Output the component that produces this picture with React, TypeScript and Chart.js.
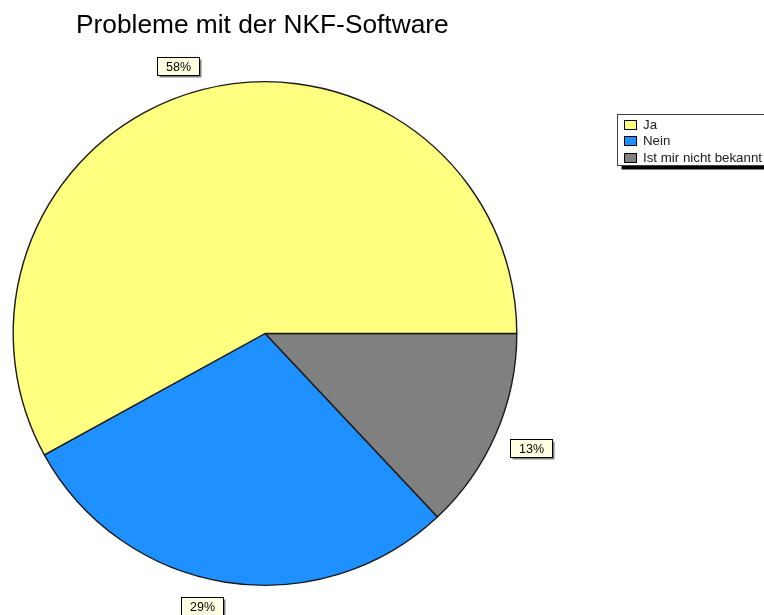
import React, { useEffect, useRef } from "react";
import { Chart, registerables } from "chart.js";

Chart.register(...registerables);

const title = "Probleme mit der NKF-Software";
const categories = ["Ja", "Nein", "Ist mir nicht bekannt"];
const values = [58, 29, 13];
const colors = ["#ffff80", "#1e90ff", "#808080"];
const percentLabels = ["58%", "29%", "13%"];

const FONT = "'Liberation Sans', Arial, sans-serif";

export default function App() {
  const ref = useRef<HTMLCanvasElement | null>(null);

  useEffect(() => {
    document.body.style.margin = "0";
    const canvas = ref.current;
    if (!canvas) return;

    // reverse so clockwise drawing from 3 o'clock reproduces the counter-clockwise original
    const order = categories.map((_, i) => i).reverse();

    const decorPlugin = {
      id: "decor",
      afterDraw(chart: any) {
        const ctx = chart.ctx as CanvasRenderingContext2D;
        ctx.save();
        // title
        ctx.fillStyle = "#000000";
        ctx.font = `26.3px ${FONT}`;
        ctx.textBaseline = "alphabetic";
        ctx.textAlign = "left";
        ctx.fillText(title, 76, 33);

        // percentage labels
        const meta = chart.getDatasetMeta(0);
        ctx.font = `12.5px ${FONT}`;
        meta.data.forEach((arc: any, k: number) => {
          const idx = order[k];
          const p = arc.getProps(["x", "y", "startAngle", "endAngle", "outerRadius"], true);
          const mid = (p.startAngle + p.endAngle) / 2;
          const dx = Math.cos(mid);
          const dy = Math.sin(mid);
          const ax = p.x + (p.outerRadius + 15) * dx;
          const ay = p.y + (p.outerRadius + 15) * dy;
          const w = 42;
          const h = 18;
          const bx = Math.round(dx < 0 ? ax - w : ax) + 0.5;
          const by = Math.round(dy < 0 ? ay - h : ay) + 0.5;
          ctx.fillStyle = "#808080";
          ctx.fillRect(bx + 2, by + 2, w, h);
          ctx.fillStyle = "#ffffe1";
          ctx.fillRect(bx, by, w, h);
          ctx.strokeStyle = "#000000";
          ctx.lineWidth = 1;
          ctx.strokeRect(bx, by, w, h);
          ctx.fillStyle = "#000000";
          ctx.textAlign = "center";
          ctx.textBaseline = "middle";
          ctx.fillText(percentLabels[idx], bx + w / 2, by + h / 2 + 1);
        });

        // legend
        const lx = 617.5;
        const ly = 114.5;
        const lw = 152;
        const lh = 51;
        ctx.fillStyle = "#000000";
        ctx.fillRect(lx + 4, ly + lh, lw, 4);
        ctx.fillRect(lx + lw, ly + 4, 4, lh);
        ctx.fillStyle = "#ffffff";
        ctx.fillRect(lx, ly, lw, lh);
        ctx.strokeStyle = "#404040";
        ctx.lineWidth = 1;
        ctx.strokeRect(lx, ly, lw, lh);
        ctx.font = `13.3px ${FONT}`;
        ctx.textAlign = "left";
        ctx.textBaseline = "alphabetic";
        categories.forEach((c, i) => {
          const ry = 119.5 + i * 16.5;
          ctx.fillStyle = colors[i];
          ctx.fillRect(624.5, Math.round(ry) + 0.5, 12, 9);
          ctx.strokeStyle = "#000000";
          ctx.strokeRect(624.5, Math.round(ry) + 0.5, 12, 9);
          ctx.fillStyle = "#202020";
          ctx.fillText(c, 643, Math.round(ry) + 9);
        });
        ctx.restore();
      },
    };

    const chart = new Chart(canvas, {
      type: "pie",
      data: {
        labels: order.map((i) => categories[i]),
        datasets: [
          {
            data: order.map((i) => values[i]),
            backgroundColor: order.map((i) => colors[i]),
            borderColor: "#1a1a1a",
            borderWidth: 1.4,
          },
        ],
      },
      options: {
        responsive: false,
        animation: false,
        rotation: 90,
        layout: { padding: { left: 12, right: 246, top: 81, bottom: 29 } },
        plugins: {
          legend: { display: false },
          title: { display: false },
          tooltip: { enabled: false },
        },
      },
      plugins: [decorPlugin],
    });

    return () => chart.destroy();
  }, []);

  return (
    <div style={{ width: 764, height: 615, background: "#ffffff" }}>
      <canvas ref={ref} width={764} height={615} style={{ display: "block" }} />
    </div>
  );
}
